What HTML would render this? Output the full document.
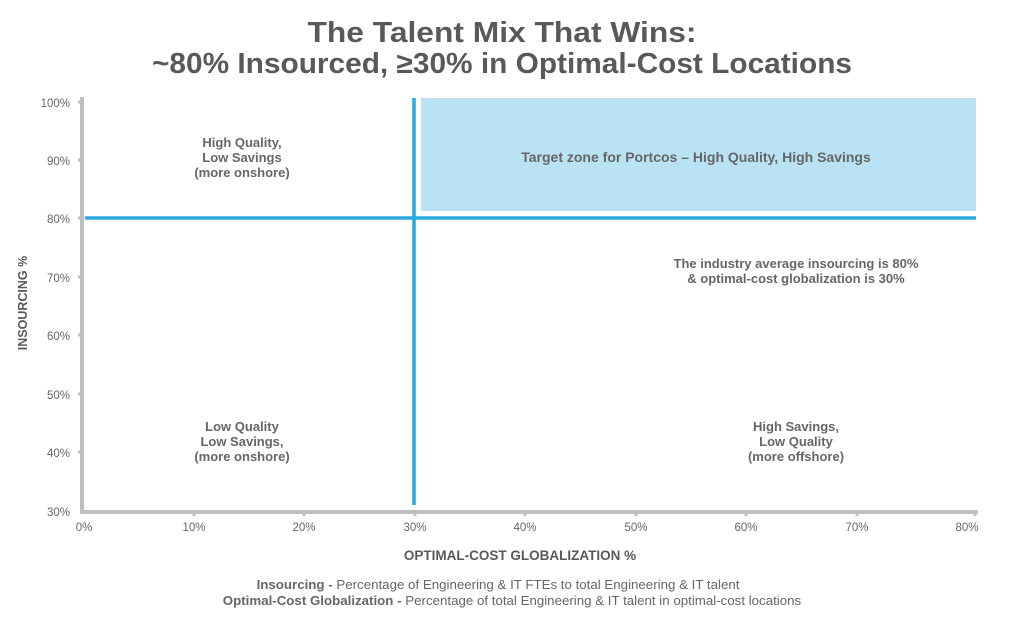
<!DOCTYPE html>
<html><head><meta charset="utf-8"><style>
body{margin:0;width:1024px;height:624px;background:#fff;font-family:"Liberation Sans",Arial,sans-serif;overflow:hidden}
svg text{font-family:"Liberation Sans",Arial,sans-serif}
</style></head><body>
<svg width="1024" height="624" viewBox="0 0 1024 624">
<text x="502" y="42" text-anchor="middle" font-size="29" font-weight="bold" fill="#595959" textLength="389" lengthAdjust="spacingAndGlyphs">The Talent Mix That Wins:</text>
<text x="502" y="73" text-anchor="middle" font-size="29" font-weight="bold" fill="#595959" textLength="700" lengthAdjust="spacingAndGlyphs">~80% Insourced, ≥30% in Optimal-Cost Locations</text>
<rect x="421" y="98" width="555" height="113" fill="#b9e2f5"/>
<line x1="82" y1="97" x2="82" y2="512" stroke="#bfbfbf" stroke-width="4"/>
<line x1="80" y1="512" x2="978" y2="512" stroke="#bfbfbf" stroke-width="4"/>
<g stroke="#bfbfbf" stroke-width="3">
<line x1="78" y1="102" x2="82" y2="102"/><line x1="78" y1="160" x2="82" y2="160"/><line x1="78" y1="218" x2="82" y2="218"/><line x1="78" y1="277" x2="82" y2="277"/><line x1="78" y1="335" x2="82" y2="335"/><line x1="78" y1="394" x2="82" y2="394"/><line x1="78" y1="452" x2="82" y2="452"/>
<line x1="194" y1="512" x2="194" y2="516"/><line x1="304" y1="512" x2="304" y2="516"/><line x1="415" y1="512" x2="415" y2="516"/><line x1="525" y1="512" x2="525" y2="516"/><line x1="636" y1="512" x2="636" y2="516"/><line x1="746" y1="512" x2="746" y2="516"/><line x1="857" y1="512" x2="857" y2="516"/><line x1="975" y1="512" x2="975" y2="516"/>
</g>
<line x1="414" y1="98" x2="414" y2="505" stroke="#29abe2" stroke-width="3.5"/>
<line x1="85" y1="218" x2="976" y2="218" stroke="#29abe2" stroke-width="3.5"/>
<g font-size="11.5" fill="#666" text-anchor="end">
<text x="70" y="107">100%</text><text x="70" y="165">90%</text><text x="70" y="223">80%</text><text x="70" y="282">70%</text><text x="70" y="340">60%</text><text x="70" y="399">50%</text><text x="70" y="457">40%</text><text x="70" y="516">30%</text>
</g>
<g font-size="11.5" fill="#666" text-anchor="middle">
<text x="84" y="531">0%</text><text x="194" y="531">10%</text><text x="304" y="531">20%</text><text x="415" y="531">30%</text><text x="525" y="531">40%</text><text x="636" y="531">50%</text><text x="746" y="531">60%</text><text x="857" y="531">70%</text><text x="967" y="531">80%</text>
</g>
<text x="520" y="560" text-anchor="middle" font-size="13.5" font-weight="bold" fill="#595959">OPTIMAL-COST GLOBALIZATION %</text>
<text transform="translate(27,303) rotate(-90)" text-anchor="middle" font-size="12.5" font-weight="bold" fill="#595959">INSOURCING %</text>
<g font-size="13" font-weight="bold" fill="#666" text-anchor="middle">
<text x="242" y="147">High Quality,</text><text x="242" y="162">Low Savings</text><text x="242" y="177">(more onshore)</text>
<text x="696" y="162" font-size="14">Target zone for Portcos – High Quality, High Savings</text>
<text x="796" y="268">The industry average insourcing is 80%</text><text x="796" y="283">&amp; optimal-cost globalization is 30%</text>
<text x="242" y="431">Low Quality</text><text x="242" y="446">Low Savings,</text><text x="242" y="461">(more onshore)</text>
<text x="796" y="431">High Savings,</text><text x="796" y="446">Low Quality</text><text x="796" y="461">(more offshore)</text>
</g>
<g font-size="13.3" fill="#666" text-anchor="middle">
<text x="498" y="589"><tspan font-weight="bold">Insourcing -</tspan> Percentage of Engineering &amp; IT FTEs to total Engineering &amp; IT talent</text>
<text x="512" y="605"><tspan font-weight="bold">Optimal-Cost Globalization -</tspan> Percentage of total Engineering &amp; IT talent in optimal-cost locations</text>
</g>
</svg>
</body></html>
